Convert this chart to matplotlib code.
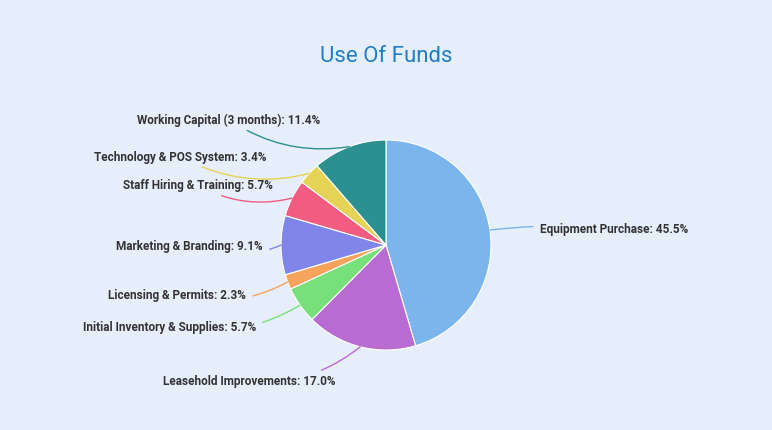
import matplotlib
matplotlib.use("Agg")
import matplotlib.pyplot as plt
import numpy as np

categories = ["Equipment Purchase", "Leasehold Improvements", "Initial Inventory & Supplies",
              "Licensing & Permits", "Marketing & Branding", "Staff Hiring & Training",
              "Technology & POS System", "Working Capital (3 months)"]
values = [45.5, 17.0, 5.7, 2.3, 9.1, 5.7, 3.4, 11.4]
colors = ["#7cb5ec", "#b86bd0", "#77e07a", "#f7a35c", "#8085e9", "#f15c80", "#e4d354", "#2b908f"]
label_pos = [(540, 229), (335, 382), (256, 327), (246, 296), (263, 247), (273, 186), (266, 157), (320, 120)]

W, H = 772, 431
fig = plt.figure(figsize=(W/100, H/100), dpi=100)
bg = "#e6eefc"
fig.patch.set_facecolor(bg)
ax = fig.add_axes([0, 0, 1, 1])
ax.set_xlim(0, W); ax.set_ylim(0, H); ax.set_aspect("equal"); ax.axis("off")
cx, cy, r = 386, H - 246, 105
wedges, _ = ax.pie(values, colors=colors, startangle=90, counterclock=False,
                   center=(cx, cy), radius=r, wedgeprops=dict(linewidth=0.8, edgecolor="white"),
                   frame=True)
ax.set_xlim(0, W); ax.set_ylim(0, H); ax.axis("off")
for w, cat, v, (px, py), c in zip(wedges, categories, values, label_pos, colors):
    ang = np.deg2rad((w.theta1 + w.theta2) / 2)
    ex, ey = cx + r * np.cos(ang), cy + r * np.sin(ang)
    ty = H - py
    right = px > cx
    ha = "left" if right else "right"
    tx = px - 5 if right else px + 5
    ax.annotate(f"{cat}: {v:.1f}%", xy=(ex, ey), xytext=(px, ty), ha=ha, va="center",
                fontsize=8.5, fontweight="bold", color="#333333", family="Roboto",
                arrowprops=dict(arrowstyle="-", color=c, lw=1,
                                connectionstyle="arc3,rad=0.2" if not right else "arc3,rad=0.05",
                                shrinkA=3, shrinkB=0))
ax.text(W/2, H - 57, "Use Of Funds", ha="center", va="center", fontsize=16,
        color="#1f7fc4", family="Roboto")
fig.savefig("out.png", dpi=100, facecolor=bg)
